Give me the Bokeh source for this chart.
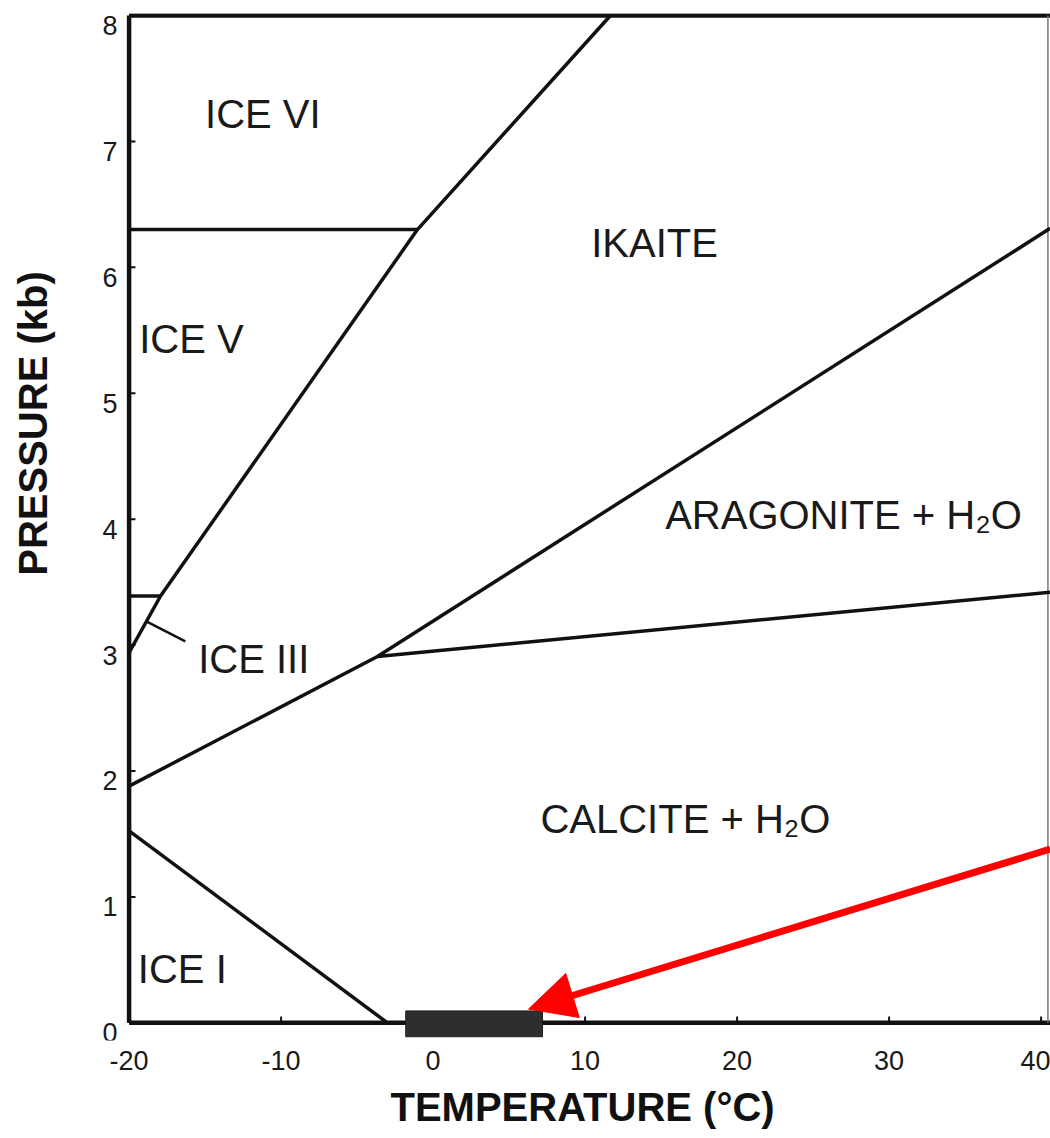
import math
from bokeh.plotting import figure
from bokeh.models import Range1d, Arrow, NormalHead, FixedTicker, Title
from bokeh.core.properties import value
from bokeh.embed import file_html
from bokeh.resources import INLINE

# ---------------- data ----------------
x_ticks = [-20, -10, 0, 10, 20, 30, 40]
x_tick_labels = ["-20", "-10", "0", "10", "20", "30", "40"]
y_ticks = [0, 1, 2, 3, 4, 5, 6, 7, 8]
y_tick_labels = ["0", "1", "2", "3", "4", "5", "6", "7", "8"]

# phase boundaries (temperature degC, pressure kb)
ice_melt_T = [-20.0, -17.93, -1.03, 11.67]
ice_melt_P = [2.94, 3.39, 6.30, 8.0]
ice56_T = [-20.0, -1.03]
ice56_P = [6.30, 6.30]
ice35_T = [-20.0, -17.93]
ice35_P = [3.39, 3.39]
ikaite_arag_T = [-20.0, -3.66, 40.6]
ikaite_arag_P = [1.88, 2.91, 6.31]
calc_arag_T = [-3.66, 40.6]
calc_arag_P = [2.91, 3.42]
ice1_T = [-20.0, -3.0]
ice1_P = [1.525, 0.0]
ice3_leader_T = [-18.9, -16.3]
ice3_leader_P = [3.19, 3.03]

# observed surface temperature range (black bar)
obs_T = [-1.8, 7.2]
obs_P = [0.0]

# red arrow (start, end)
arrow_T = [40.6, 6.28]
arrow_P = [1.38, 0.11]

region_names = ["ICE VI", "IKAITE", "ICE V", "ARAGONITE + H\u2082O",
                "CALCITE + H\u2082O", "ICE I", "ICE III"]
region_T = [-11.2, 14.57, -15.9, 27.0, 16.6, -16.5, -11.8]
region_P = [7.22, 6.19, 5.43, 4.03, 1.62, 0.43, 2.89]

x_label = "TEMPERATURE (\u00b0C)"
y_label = "PRESSURE (kb)"

# view window (the frame spans the whole width; room on the left for the P labels)
x_min, x_max = -28.46, 40.62
y_min, y_max = -0.14, 8.016
FONT = "Liberation Sans"
INK = "#111111"

p = figure(frame_width=1050, frame_height=1027,
           x_range=Range1d(x_min, x_max), y_range=Range1d(y_min, y_max),
           y_axis_location=None,
           output_backend="svg", toolbar_location=None,
           min_border_left=0, min_border_right=0, min_border_top=13,
           min_border_bottom=0, outline_line_color=None,
           background_fill_color="white", border_fill_color="white")
p.grid.visible = False

# x axis (tick labels only)
xa = p.xaxis[0]
xa.ticker = FixedTicker(ticks=x_ticks)
xa.major_label_overrides = {t: l for t, l in zip(x_ticks, x_tick_labels)}
xa.axis_line_color = None
xa.major_tick_line_color = None
xa.minor_tick_line_color = None
xa.major_label_text_font = FONT
xa.major_label_text_font_size = "27px"
xa.major_label_text_color = "#1a1a1a"
xa.major_label_standoff = 4

p.add_layout(Title(text=x_label, align="left", offset=390, standoff=24,
                   vertical_align="top",
                   text_font=FONT, text_font_size="40px", text_font_style="bold",
                   text_color="#111111"), "below")

# y tick labels, placed just left of the frame line, slightly below each tick
p.text(x=[x_ticks[0] - 0.76] * len(y_ticks), y=[t - 0.079 for t in y_ticks],
       text=y_tick_labels, text_align="right", text_baseline="middle",
       text_font=value(FONT), text_font_size="27px", text_color="#1a1a1a")

# y axis title
p.text(x=[-26.29], y=[4.76], text=[y_label], angle=math.pi / 2,
       text_align="center", text_baseline="middle",
       text_font=value(FONT), text_font_size="40px", text_font_style="bold",
       text_color="#111111")

# frame
p.line([x_ticks[0], x_max], [0, 0], line_color=INK, line_width=4.5)
p.line([x_ticks[0], x_max], [y_ticks[-1], y_ticks[-1]], line_color=INK, line_width=4.5)
p.line([x_ticks[0], x_ticks[0]], [0, y_ticks[-1]], line_color=INK, line_width=4.5)
p.line([40.45, 40.45], [0, y_ticks[-1]], line_color="#777777", line_width=1.5)

# inward tick marks
p.segment(x0=x_ticks, y0=[0] * len(x_ticks), x1=x_ticks, y1=[0.05] * len(x_ticks),
          line_color=INK, line_width=2)
p.segment(x0=[x_ticks[0]] * len(y_ticks), y0=y_ticks,
          x1=[x_ticks[0] + 0.42] * len(y_ticks), y1=y_ticks,
          line_color=INK, line_width=2)

# phase boundaries
for xs, ys in [(ice_melt_T, ice_melt_P), (ice56_T, ice56_P), (ice35_T, ice35_P),
               (ikaite_arag_T, ikaite_arag_P), (calc_arag_T, calc_arag_P),
               (ice1_T, ice1_P)]:
    p.line(xs, ys, line_color=INK, line_width=3.5)
p.line(ice3_leader_T, ice3_leader_P, line_color=INK, line_width=2.5)

# black bar of observed temperatures
p.quad(left=[obs_T[0]], right=[obs_T[1]], bottom=[obs_P[0] - 0.11], top=[obs_P[0] + 0.095],
       fill_color="#2e2e2e", line_color="#1e1e1e", line_width=1)

# region labels
p.text(x=region_T, y=region_P, text=region_names, text_align="center",
       text_baseline="middle", text_font=value(FONT), text_font_size="40px",
       text_color="#1a1a1a")

# red arrow
p.add_layout(Arrow(end=NormalHead(size=46, fill_color="#ff0000", line_color="#ff0000"),
                   x_start=arrow_T[0], y_start=arrow_P[0],
                   x_end=arrow_T[1], y_end=arrow_P[1],
                   line_color="#ff0000", line_width=7))

open("out.html", "w").write(file_html(p, INLINE))
